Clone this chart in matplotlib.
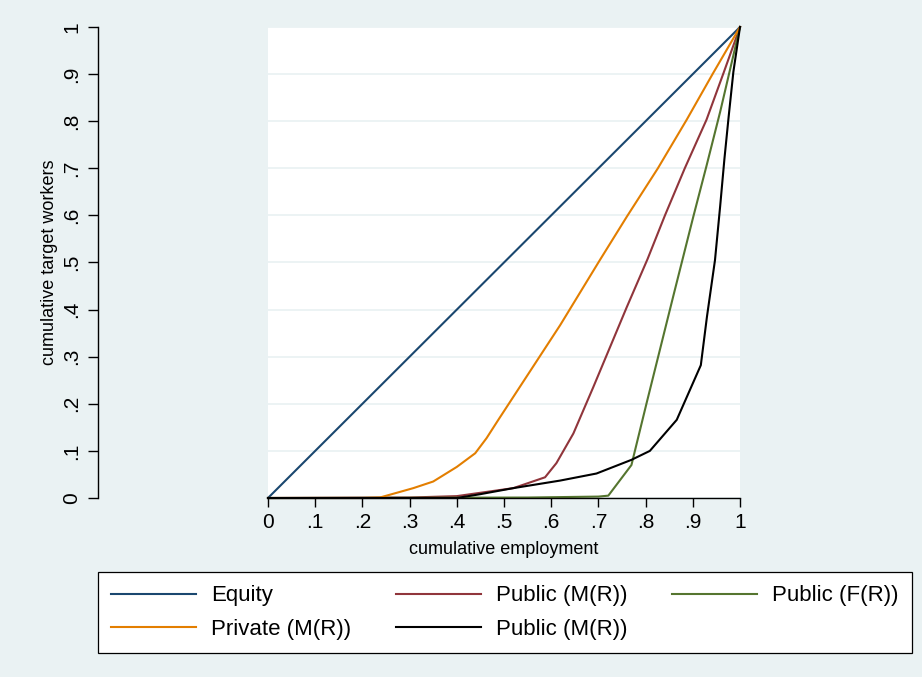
import matplotlib.pyplot as plt

plt.rcParams['font.family'] = ['Liberation Sans', 'DejaVu Sans']

# cumulative employment (x) vs cumulative target workers (y)
equity_x = [0.0, 1.0]
equity_y = [0.0, 1.0]

pub_m1_x = [0.0, 0.3, 0.40, 0.52, 0.587, 0.611, 0.647, 0.689, 0.760, 0.804, 0.841, 0.883, 0.929, 0.965, 1.0]
pub_m1_y = [0.0, 0.001, 0.004, 0.021, 0.044, 0.074, 0.137, 0.235, 0.405, 0.507, 0.600, 0.700, 0.803, 0.902, 1.0]

pub_f_x = [0.0, 0.55, 0.70, 0.721, 0.770, 0.802, 0.859, 0.901, 0.929, 0.958, 1.0]
pub_f_y = [0.0, 0.001, 0.003, 0.005, 0.070, 0.201, 0.430, 0.597, 0.705, 0.820, 1.0]

priv_x = [0.0, 0.2, 0.237, 0.308, 0.35, 0.40, 0.439, 0.463, 0.488, 0.619, 0.703, 0.760, 0.826, 0.887, 0.943, 1.0]
priv_y = [0.0, 0.0, 0.001, 0.021, 0.035, 0.066, 0.095, 0.127, 0.166, 0.367, 0.505, 0.597, 0.700, 0.803, 0.902, 1.0]

pub_m2_x = [0.0, 0.4, 0.449, 0.52, 0.619, 0.696, 0.770, 0.809, 0.866, 0.917, 0.930, 0.947, 0.958, 0.967, 0.976, 0.986, 1.0]
pub_m2_y = [0.0, 0.0, 0.008, 0.021, 0.037, 0.052, 0.081, 0.100, 0.166, 0.282, 0.385, 0.505, 0.620, 0.720, 0.810, 0.905, 1.0]

ticks = [i / 10 for i in range(11)]
tick_labels = ['0', '.1', '.2', '.3', '.4', '.5', '.6', '.7', '.8', '.9', '1']

bg = '#eaf2f3'
navy, maroon, green, orange = '#1a476f', '#90353b', '#55752f', '#e37e00'

fig = plt.figure(figsize=(9.22, 6.77), dpi=100, facecolor=bg)
ax = fig.add_axes([268 / 922, 179 / 677, 472 / 922, 471 / 677])
ax.set_facecolor('white')

lw = 1.5
h_eq, = ax.plot(equity_x, equity_y, color=navy, lw=lw, clip_on=False)
h_m1, = ax.plot(pub_m1_x, pub_m1_y, color=maroon, lw=lw, clip_on=False)
h_f, = ax.plot(pub_f_x, pub_f_y, color=green, lw=lw, clip_on=False)
h_pr, = ax.plot(priv_x, priv_y, color=orange, lw=lw, clip_on=False)
h_m2, = ax.plot(pub_m2_x, pub_m2_y, color='black', lw=lw, clip_on=False)

ax.set_xlim(0, 1)
ax.set_ylim(0, 1)
ax.set_xticks(ticks)
ax.set_xticklabels(tick_labels)
ax.set_yticks(ticks)
ax.set_yticklabels(tick_labels)
ax.yaxis.grid(True, color=bg, lw=1.3)
ax.set_axisbelow(True)

for s in ['top', 'right']:
    ax.spines[s].set_visible(False)
ax.spines['bottom'].set_linewidth(1.0)
ax.spines['left'].set_linewidth(1.0)
ax.spines['left'].set_position(('outward', 122.4))

ax.tick_params(axis='x', length=6.5, width=1, pad=4, labelsize=15)
ax.tick_params(axis='y', length=7.3, width=1, pad=5, labelsize=15, labelrotation=90)
for lab in ax.get_yticklabels():
    lab.set_va('center')

ax.set_xlabel('cumulative employment', fontsize=13, va='top')
ax.xaxis.set_label_coords(0.5, -0.091)
ax.set_ylabel('cumulative target workers', fontsize=13, va='center', ha='center')
ax.yaxis.set_label_coords(-0.462, 0.5)

leg = fig.legend([h_eq, h_pr, h_m1, h_m2, h_f],
                 ['Equity', 'Private (M(R))', 'Public (M(R))', 'Public (M(R))', 'Public (F(R))'],
                 ncol=3, loc='upper left', mode='expand',
                 bbox_to_anchor=(98 / 922, 25 / 677, 814 / 922, 80 / 677),
                 fontsize=16, handlelength=3.8, handletextpad=0.7, labelspacing=0.55,
                 borderpad=0.6, borderaxespad=0, frameon=True, fancybox=False,
                 edgecolor='black', framealpha=1)
leg.get_frame().set_linewidth(0.9)

fig.savefig('out.png', dpi=100, facecolor=bg)
